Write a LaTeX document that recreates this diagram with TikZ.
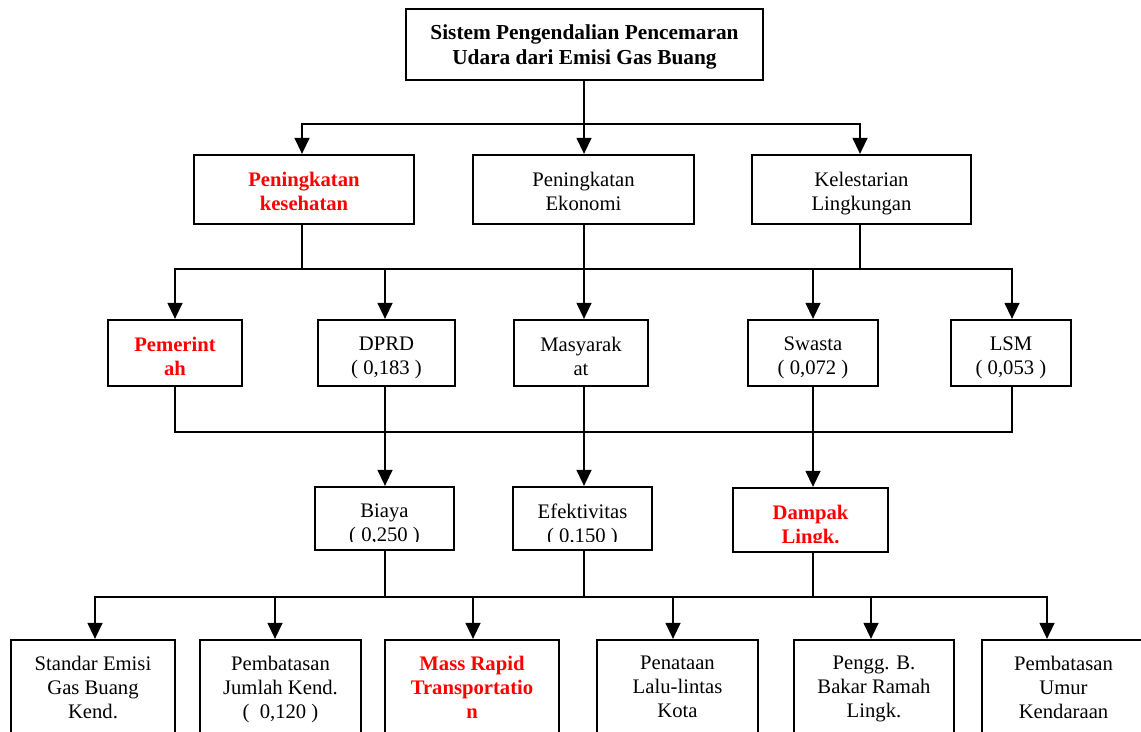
\documentclass[tikz,border=0pt]{standalone}
\usepackage{fontspec}
\setmainfont{Liberation Serif}
\usetikzlibrary{arrows.meta,calc,fit}
\definecolor{redtxt}{RGB}{255,0,0}
\tikzset{
  box/.style={draw=black, line width=1.6pt, inner sep=0pt},
  txt/.style={font=\fontsize{15.5}{18}\selectfont, align=center, inner sep=0pt, anchor=north},
  hot/.style={txt, font=\fontsize{15.5}{18}\selectfont\bfseries, text=redtxt},
  ttl/.style={txt, font=\fontsize{16}{19}\selectfont\bfseries},
  ln/.style={line width=1.7pt, line cap=rect},
  arr/.style={line width=1.7pt, -{Triangle[length=12pt,width=11pt]}},
}
\begin{document}
\begin{tikzpicture}[x=0.75pt,y=-0.75pt]
\clip (0,0) rectangle (1141,731);
\fill[white] (0,0) rectangle (1141,731);
% boxes
\node[box, fit={(406,9) (763,80)}] (root) {};
\node[box, fit={(194,155) (414,224)}] (A) {};
\node[box, fit={(473,155) (694,224)}] (B) {};
\node[box, fit={(752,155) (971,224)}] (C) {};
\node[box, fit={(108,320) (242,386)}] (pem) {};
\node[box, fit={(318,320) (455,386)}] (dprd) {};
\node[box, fit={(514,320) (648,386)}] (mas) {};
\node[box, fit={(748,320) (878,386)}] (swa) {};
\node[box, fit={(951,320) (1071,386)}] (lsm) {};
\node[box, fit={(315,487) (454,550)}] (biaya) {};
\node[box, fit={(513,487) (652,550)}] (efek) {};
\node[box, fit={(733,488) (888,552)}] (damp) {};
\node[box, fit={(11,640) (175,745)}] (std) {};
\node[box, fit={(200,640) (361,745)}] (pjk) {};
\node[box, fit={(385,640) (559,745)}] (mrt) {};
\node[box, fit={(597,640) (758,745)}] (pen) {};
\node[box, fit={(794,640) (954,745)}] (peng) {};
\node[box, fit={(982,640) (1145,745)}] (umur) {};
% texts
\node[ttl] (troot) at ($(root.north)+(0,16)$) {Sistem Pengendalian Pencemaran\\Udara dari Emisi Gas Buang};
\node[hot] (tA) at ($(A.north)+(0,17.5)$) {Peningkatan\\kesehatan};
\node[txt] (tB) at ($(B.north)+(0,17.5)$) {Peningkatan\\Ekonomi};
\node[txt] (tC) at ($(C.north)+(0,17.5)$) {Kelestarian\\Lingkungan};
\node[hot] (tpem) at ($(pem.north)+(0,17.5)$) {Pemerint\\ah};
\node[txt] (tdprd) at ($(dprd.north)+(0,17.5)$) {DPRD\\( 0,183 )};
\node[txt] (tmas) at ($(mas.north)+(0,17.5)$) {Masyarak\\at};
\node[txt] (tswa) at ($(swa.north)+(0,17.5)$) {Swasta\\( 0,072 )};
\node[txt] (tlsm) at ($(lsm.north)+(0,17.5)$) {LSM\\( 0,053 )};
\begin{scope}
\clip (315,487) rectangle (454,541);
\node[txt] (tbiaya) at ($(biaya.north)+(0,17.5)$) {Biaya\\( 0,250 )};
\end{scope}
\begin{scope}
\clip (513,487) rectangle (652,541);
\node[txt] (tefek) at ($(efek.north)+(0,17.5)$) {Efektivitas\\( 0,150 )};
\end{scope}
\begin{scope}
\clip (733,488) rectangle (888,542.5);
\node[hot] (tdamp) at ($(damp.north)+(0,17.5)$) {Dampak\\Lingk.};
\end{scope}
\node[txt] (tstd) at ($(std.north)+(0,16.5)$) {Standar Emisi\\Gas Buang\\Kend.};
\node[txt] (tpjk) at ($(pjk.north)+(0,16.5)$) {Pembatasan\\Jumlah Kend.\\(\ \ 0,120 )};
\node[hot] (tmrt) at ($(mrt.north)+(0,16.5)$) {Mass Rapid\\Transportatio\\n};
\node[txt] (tpen) at ($(pen.north)+(0,16.5)$) {Penataan\\Lalu-lintas\\Kota};
\node[txt] (tpeng) at ($(peng.north)+(0,16.5)$) {Pengg. B.\\Bakar Ramah\\Lingk.};
\node[txt] (tumur) at ($(umur.north)+(0,16.5)$) {Pembatasan\\Umur\\Kendaraan};
% level 1 -> 2
\coordinate (j1) at (584,124);
\coordinate (j1L) at (302,124);
\coordinate (j1R) at (860,124);
\draw[arr] (root.south -| j1) -- (j1 |- B.north);
\draw[arr] (j1) -- (j1L) -- (j1L |- A.north);
\draw[arr] (j1) -- (j1R) -- (j1R |- C.north);
% level 2 -> 3
\coordinate (b2L) at (175,269);
\coordinate (b2R) at (1012,269);
\draw[arr] (j1L |- A.south) |- (b2L) -- (b2L |- pem.north);
\draw[arr] (j1R |- C.south) |- (b2R) -- (b2R |- lsm.north);
\draw[ln] (b2L) -- (b2R);
\coordinate (c2) at (385,269);
\coordinate (c4) at (813,269);
\draw[arr] (c2) -- (c2 |- dprd.north);
\draw[arr] (j1 |- B.south) -- (j1 |- mas.north);
\draw[arr] (c4) -- (c4 |- swa.north);
% level 3 -> 4
\coordinate (b3L) at (175,432);
\coordinate (b3R) at (1012,432);
\draw[ln] (b3L |- pem.south) -- (b3L) -- (b3R) -- (b3R |- lsm.south);
\draw[arr] (c2 |- dprd.south) -- (c2 |- biaya.north);
\draw[arr] (j1 |- mas.south) -- (j1 |- efek.north);
\draw[arr] (c4 |- swa.south) -- (c4 |- damp.north);
% level 4 -> 5
\coordinate (b4L) at (95,597);
\coordinate (b4R) at (1047,597);
\draw[ln] (c2 |- biaya.south) -- (c2 |- b4L);
\draw[ln] (j1 |- efek.south) -- (j1 |- b4L);
\draw[ln] (c4 |- damp.south) -- (c4 |- b4L);
\draw[arr] (b4R) -- (b4L) -- (b4L |- std.north);
\draw[arr] (b4L) -- (b4R) -- (b4R |- umur.north);
\coordinate (a2) at (275,597);
\coordinate (a3) at (473,597);
\coordinate (a4) at (673,597);
\coordinate (a5) at (871,597);
\draw[arr] (a2) -- (a2 |- pjk.north);
\draw[arr] (a3) -- (a3 |- mrt.north);
\draw[arr] (a4) -- (a4 |- pen.north);
\draw[arr] (a5) -- (a5 |- peng.north);
\end{tikzpicture}
\end{document}
